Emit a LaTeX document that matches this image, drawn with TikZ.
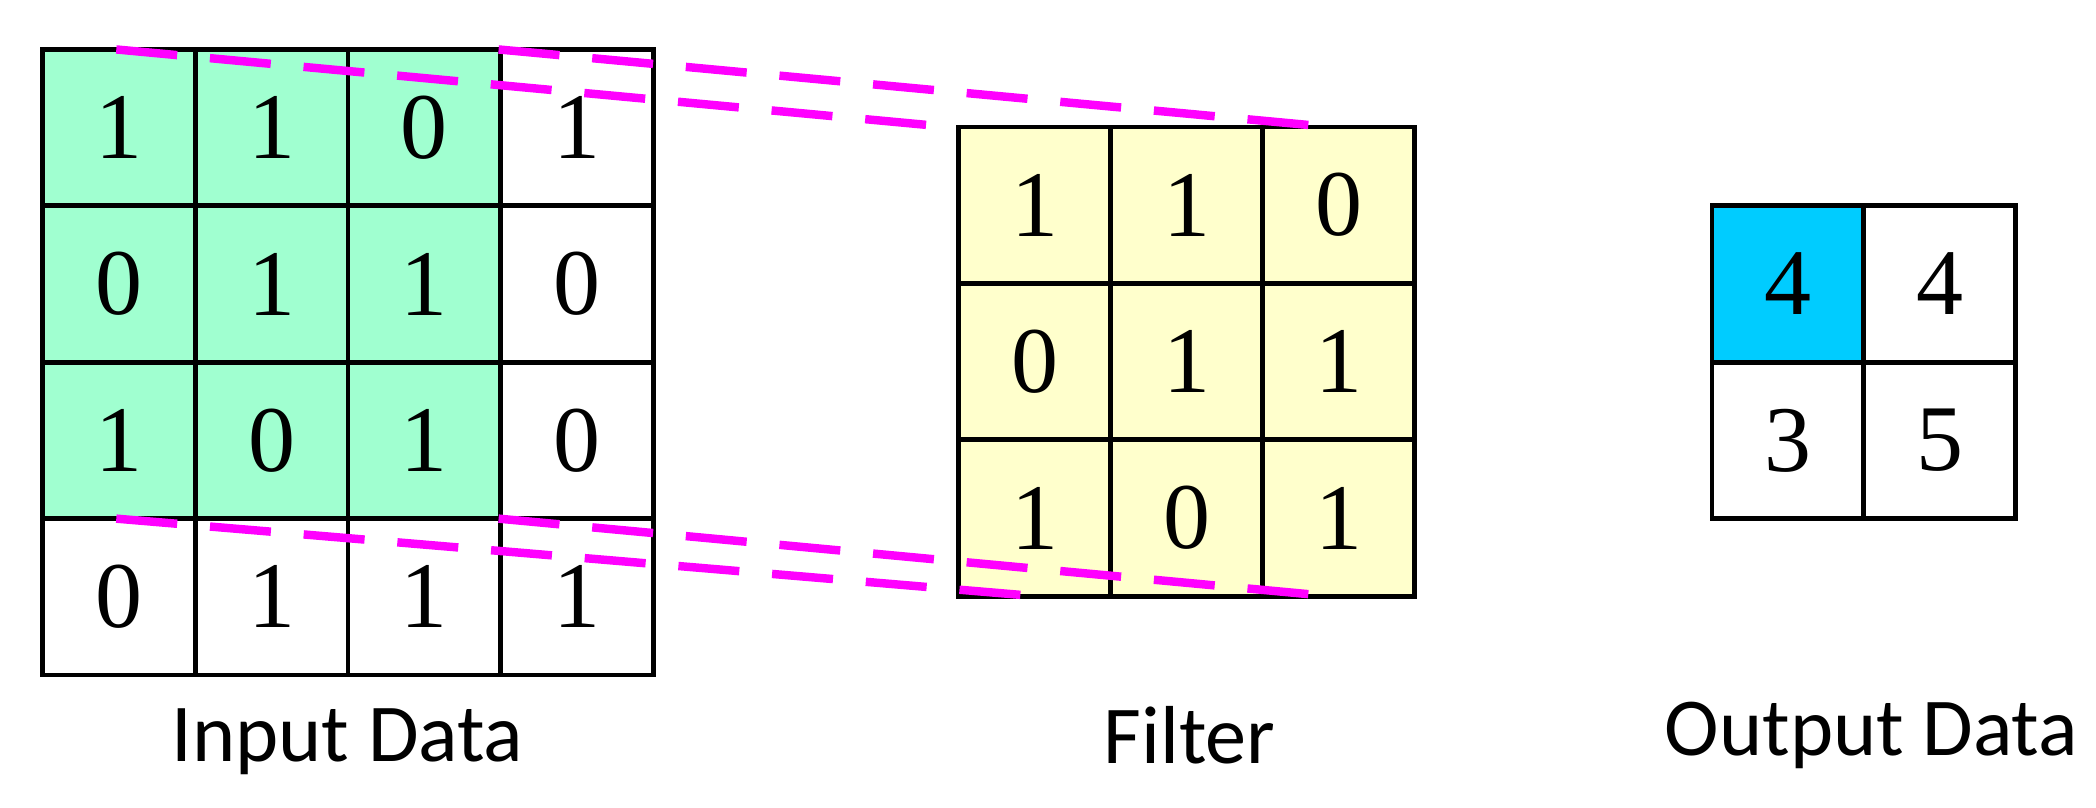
\documentclass[tikz,border=0pt]{standalone}
\usepackage{fontspec}
\setmainfont{Liberation Serif}
\newfontfamily\lbl{Carlito}
\begin{document}
\begin{tikzpicture}[x=0.01cm,y=-0.01cm,
  cell/.style={draw=black,line width=1pt,inner sep=0pt,font=\fontsize{20}{20}\selectfont},
  lab/.style={font=\lbl\fontsize{17.5}{17.5}\selectfont},
  mdash/.style={draw={rgb,255:red,255;green,0;blue,255},line width=1.8pt,dash pattern=on 13pt off 7pt}]
\useasboundingbox (0,0) rectangle (1568,604);
\definecolor{gr}{RGB}{160,255,208}
\definecolor{ye}{RGB}{255,255,204}
\definecolor{bl}{RGB}{0,204,255}
% input
\def\inp{{{1,1,0,1},{0,1,1,0},{1,0,1,0},{0,1,1,1}}}
\foreach \r in {0,...,3}{\foreach \c in {0,...,3}{
  \pgfmathsetmacro{\v}{int(\inp[\r][\c])}
  \pgfmathsetmacro{\g}{(\r<3 && \c<3) ? 1 : 0}
  \ifdim\g pt>0.5pt \def\fc{gr}\else\def\fc{white}\fi
  \node[cell,fill=\fc,minimum width=1.143cm,minimum height=1.17cm] (i\r\c) at (89+114.25*\c,95.5+117*\r) {\v};
}}
% filter
\def\fil{{{1,1,0},{0,1,1},{1,0,1}}}
\foreach \r in {0,...,2}{\foreach \c in {0,...,2}{
  \pgfmathsetmacro{\v}{int(\fil[\r][\c])}
  \node[cell,fill=ye,minimum width=1.137cm,minimum height=1.17cm] (f\r\c) at (774+113.7*\c,153.5+117*\r) {\v};
}}
% output
\node[cell,fill=bl,minimum width=1.135cm,minimum height=1.17cm] (o00) at (1337.5,212.5) {4};
\node[cell,fill=white,minimum width=1.135cm,minimum height=1.17cm] (o01) at (1451,212.5) {4};
\node[cell,fill=white,minimum width=1.135cm,minimum height=1.17cm] (o10) at (1337.5,329.5) {3};
\node[cell,fill=white,minimum width=1.135cm,minimum height=1.17cm] (o11) at (1451,329.5) {5};
% dashed lines
\coordinate (a1) at (87,37); \coordinate (b1) at (710,95);
\coordinate (a2) at (373,37); \coordinate (b2) at (995,95);
\coordinate (a3) at (87,388); \coordinate (b3) at (775,446);
\coordinate (a4) at (373,388); \coordinate (b4) at (995,446);
\draw[mdash] (a1) -- (b1);
\draw[mdash] (a2) -- (b2);
\draw[mdash] (a3) -- (b3);
\draw[mdash] (a4) -- (b4);
% labels
\node[lab] (l1) at (260,555) {Input Data};
\node[lab] (l2) at (890,550) {Filter};
\node[lab] (l3) at (1400,550) {Output Data};
\end{tikzpicture}
\end{document}
